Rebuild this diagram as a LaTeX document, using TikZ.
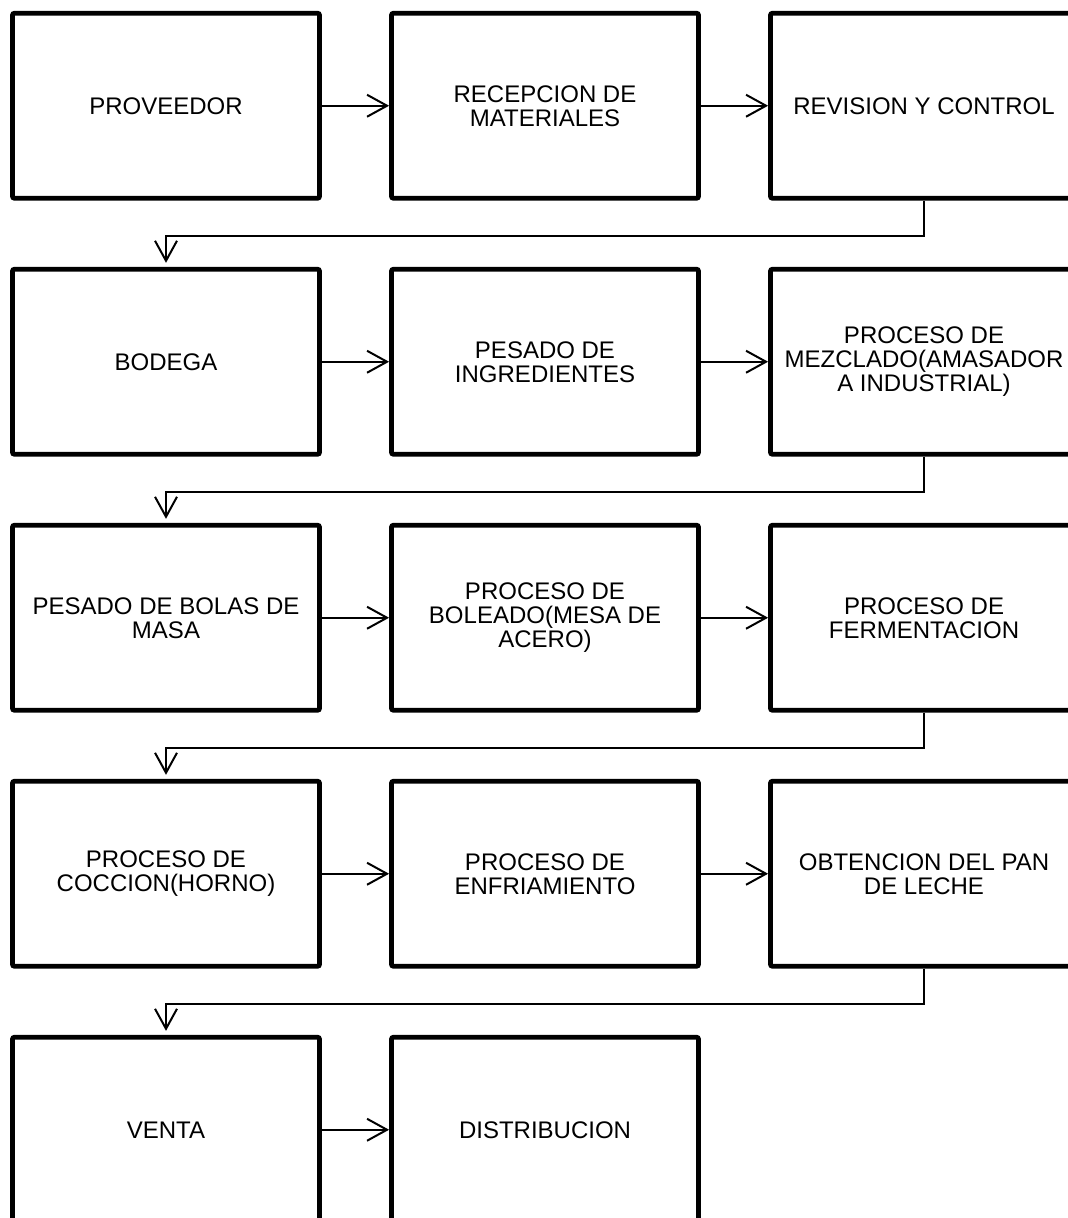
\documentclass[tikz,border=0pt]{standalone}
\usepackage{fontspec}
\setmainfont{Liberation Sans}
\usetikzlibrary{arrows.meta}
\tikzstyle{stage} = [rectangle, draw=black, line width=2.4pt, align=center, minimum width=153.5pt, minimum height=92.5pt, rounded corners=1pt, font=\fontsize{12}{12}\selectfont]
\tikzstyle{arrow} = [line width=1pt, -{Straight Barb[length=10pt,width=11pt]}]

\begin{document}
\begin{tikzpicture}[node distance=128pt]
			\useasboundingbox (0,0) rectangle (533.5pt,-609pt);
			% Nodes
			\node (proveedor) [stage] at (83pt,-52.875pt) {PROVEEDOR};
			\node (recepcion) [stage, right of=proveedor, xshift=61.5pt] {RECEPCION DE\\MATERIALES};
			\node (revision) [stage, right of=recepcion, xshift=61.5pt] {REVISION Y CONTROL};
			\node (bodega) [stage, below of=proveedor] {BODEGA};
			\node (pesado) [stage, right of=bodega, xshift=61.5pt] {PESADO DE\\INGREDIENTES};
			\node (mezclado) [stage, right of=pesado, xshift=61.5pt] {PROCESO DE\\MEZCLADO(AMASADOR\\A INDUSTRIAL)};
			\node (bolas) [stage, below of=bodega] {PESADO DE BOLAS DE\\MASA};
			\node (boleado) [stage, right of=bolas, xshift=61.5pt] {PROCESO DE\\BOLEADO(MESA DE\\ACERO)};
			\node (fermentacion) [stage, right of=boleado, xshift=61.5pt] {PROCESO DE\\FERMENTACION};
			\node (coccion) [stage, below of=bolas] {PROCESO DE\\COCCION(HORNO)};
			\node (enfriamiento) [stage, right of=coccion, xshift=61.5pt] {PROCESO DE\\ENFRIAMIENTO};
			\node (obtencion) [stage, right of=enfriamiento, xshift=61.5pt] {OBTENCION DEL PAN\\DE LECHE};
			\node (venta) [stage, below of=coccion] {VENTA};
			\node (distribucion) [stage, right of=venta, xshift=61.5pt] {DISTRIBUCION};

			% Arrows
			\draw [arrow] (proveedor) -- (recepcion);
			\draw [arrow] (recepcion) -- (revision);
			\draw [arrow, shorten >=2pt] (revision.south) -- ++(0,-17.5pt) -| (bodega.north);
			\draw [arrow] (bodega) -- (pesado);
			\draw [arrow] (pesado) -- (mezclado);
			\draw [arrow, shorten >=2pt] (mezclado.south) -- ++(0,-17.5pt) -| (bolas.north);
			\draw [arrow] (bolas) -- (boleado);
			\draw [arrow] (boleado) -- (fermentacion);
			\draw [arrow, shorten >=2pt] (fermentacion.south) -- ++(0,-17.5pt) -| (coccion.north);
			\draw [arrow] (coccion) -- (enfriamiento);
			\draw [arrow] (enfriamiento) -- (obtencion);
			\draw [arrow, shorten >=2pt] (obtencion.south) -- ++(0,-17.5pt) -| (venta.north);
			\draw [arrow] (venta) -- (distribucion);
		\end{tikzpicture}
\end{document}
